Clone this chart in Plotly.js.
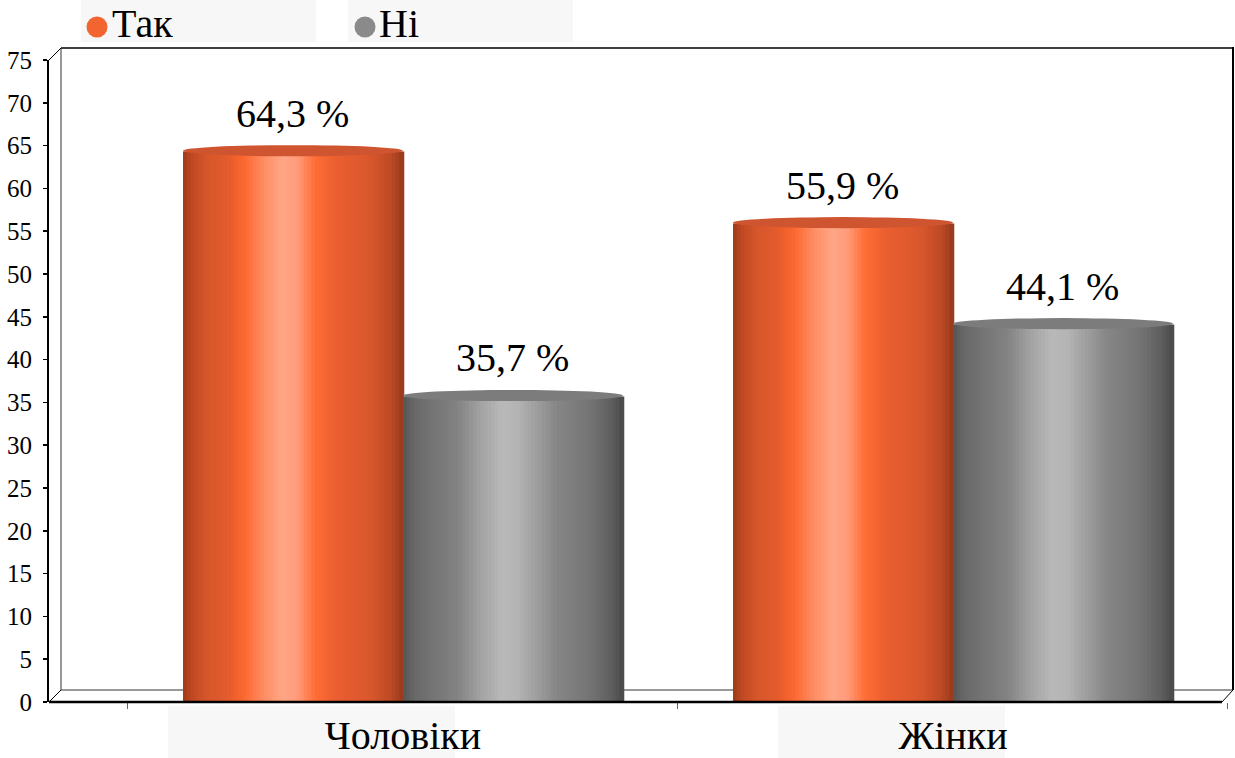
<!DOCTYPE html>
<html>
<head>
<meta charset="utf-8">
<script src="https://cdn.plot.ly/plotly-3.0.1.min.js"></script>
<style>
  html, body { margin: 0; padding: 0; background: #ffffff; }
  #chart { width: 1235px; height: 758px; }
</style>
</head>
<body>
<div id="chart"></div>
<script>
// ---- data ----
const categories = ['Чоловіки', 'Жінки'];
const seriesNames = ['Так', 'Ні'];
const yesValues = [64.3, 55.9];
const noValues = [35.7, 44.1];
const yTickValues = [0, 5, 10, 15, 20, 25, 30, 35, 40, 45, 50, 55, 60, 65, 70, 75];

// ---- styling ----
const FONT = 'Liberation Serif';
const W = 1235, H = 758;
const M = { l: 49, r: 2, t: 60, b: 56 };
const plotW = W - M.l - M.r, plotH = H - M.t - M.b;
const px = x => (x - M.l) / plotW;           // pixel -> paper x
const py = y => (H - M.b - y) / plotH;       // pixel -> paper y

const orangeStops = [[0,'#9a3a1c'],[0.04,'#bf4923'],[0.1,'#d4552a'],[0.2,'#e35b2c'],[0.28,'#fd6830'],
  [0.36,'#ff8a60'],[0.45,'#ffa686'],[0.52,'#ff9b7a'],[0.6,'#ff6d35'],[0.7,'#e95e30'],
  [0.85,'#d9572d'],[0.95,'#bb4925'],[1,'#973a1c']];
const grayStops = [[0,'#555555'],[0.05,'#686868'],[0.15,'#767676'],[0.25,'#838383'],[0.35,'#a2a2a2'],
  [0.45,'#b9b9b9'],[0.52,'#b4b4b4'],[0.6,'#a0a0a0'],[0.7,'#868686'],[0.85,'#747474'],
  [0.95,'#5e5e5e'],[1,'#484848']];
const stopsBySeries = [orangeStops, grayStops];
const capColors = ['#cf5530', '#7c7c7c'];
const legendColors = ['#f26530', '#8a8a8a'];

function hex(c){ return [1,3,5].map(i => parseInt(c.substr(i,2),16)); }
function gradColor(stops, t){
  for (let i = 0; i < stops.length - 1; i++){
    const [t0,c0] = stops[i], [t1,c1] = stops[i+1];
    if (t >= t0 && t <= t1){
      const f = (t - t0) / (t1 - t0), a = hex(c0), b = hex(c1);
      const r = a.map((v,j) => Math.round(v + (b[j]-v)*f));
      return 'rgb(' + r.join(',') + ')';
    }
  }
  return stops[stops.length-1][1];
}

const seriesValues = [yesValues, noValues];
const barWidth = 0.4;
const N = 60;
const slice = barWidth / N;
const traces = [];
seriesValues.forEach((vals, s) => {
  const base = s === 0 ? -barWidth : 0;
  for (let k = 0; k < N; k++){
    traces.push({
      type: 'bar', x: categories, y: vals,
      width: slice * 1.35, offset: base + k * slice,
      marker: { color: gradColor(stopsBySeries[s], (k + 0.5) / N), line: { width: 0 } },
      showlegend: false, hoverinfo: 'skip', name: seriesNames[s]
    });
  }
});

// cylinder caps + value labels built from the data
const shapes = [];
const annotations = [];
seriesValues.forEach((vals, s) => {
  const base = s === 0 ? -barWidth : 0;
  vals.forEach((v, i) => {
    shapes.push({ type: 'circle', xref: 'x', yref: 'y', layer: 'above',
      x0: i + base, x1: i + base + barWidth, y0: v - 0.55, y1: v + 0.75,
      fillcolor: capColors[s], line: { width: 0 } });
    annotations.push({ xref: 'x', yref: 'y', x: i + base + barWidth / 2, y: v,
      yanchor: 'bottom', yshift: 14, showarrow: false,
      text: v.toFixed(1).replace('.', ',') + ' %',
      font: { family: FONT, size: 40, color: '#000' } });
  });
});

// light label backgrounds
[[81,0,316,42],[348,0,573,42],[168,706,455,758],[778,706,1005,758]].forEach(r => {
  shapes.push({ type: 'rect', xref: 'paper', yref: 'paper', layer: 'below',
    x0: px(r[0]), x1: px(r[2]), y0: py(r[1]), y1: py(r[3]),
    fillcolor: '#f7f7f7', line: { width: 0 } });
});
// back wall and 3D frame
const line = (x0,y0,x1,y1,w,layer,c) => shapes.push({ type: 'line', xref: 'paper', yref: 'paper',
  layer: layer, x0: px(x0), y0: py(y0), x1: px(x1), y1: py(y1), line: { color: c || '#000', width: w } });
line(61, 48, 1233, 48, 1.5, 'below');
line(61, 48, 61, 690, 1, 'below', '#333');
line(1233, 47, 1233, 690, 2, 'below');
line(61, 690, 1233, 690, 1, 'below', '#333');
line(49, 60, 61, 48, 1, 'above');
line(49, 702, 61, 690, 1, 'above');
line(1222, 702, 1233, 690, 1, 'above');
line(49, 702, 1222, 702, 2.5, 'above');

// legend (dots + labels)
const legendPos = [[97, 110], [365, 377]];
seriesNames.forEach((name, s) => {
  shapes.push({ type: 'circle', xref: 'paper', yref: 'paper', layer: 'above',
    xsizemode: 'pixel', ysizemode: 'pixel', xanchor: px(legendPos[s][0]), yanchor: py(27),
    x0: -10.5, x1: 10.5, y0: -10.5, y1: 10.5, fillcolor: legendColors[s], line: { width: 0 } });
  annotations.push({ xref: 'paper', yref: 'paper', x: px(legendPos[s][1]), y: py(24),
    xanchor: 'left', yanchor: 'middle', showarrow: false, text: name,
    font: { family: FONT, size: 40, color: '#000' } });
});

const layout = {
  width: W, height: H,
  margin: M,
  font: { family: FONT },
  paper_bgcolor: '#ffffff', plot_bgcolor: 'rgba(0,0,0,0)',
  barmode: 'overlay',
  showlegend: false,
  separators: ', ',
  xaxis: {
    type: 'category', range: [-0.6436, 1.5091], fixedrange: true,
    showline: false, showgrid: false, zeroline: false,
    ticks: 'outside', tickson: 'boundaries', ticklen: 6, tickwidth: 1, tickcolor: '#666',
    ticklabelstandoff: 6,
    tickfont: { family: FONT, size: 40, color: '#000' }
  },
  yaxis: {
    range: [0, 75], fixedrange: true,
    tickmode: 'array', tickvals: yTickValues,
    showline: true, linecolor: '#000', linewidth: 2,
    showgrid: false, zeroline: false,
    ticks: 'outside', ticklen: 4, tickwidth: 1.5, tickcolor: '#000',
    ticklabelstandoff: 6,
    tickfont: { family: FONT, size: 25, color: '#000' }
  },
  shapes: shapes,
  annotations: annotations
};

Plotly.newPlot('chart', traces, layout, { displayModeBar: false, staticPlot: true });
</script>
</body>
</html>
